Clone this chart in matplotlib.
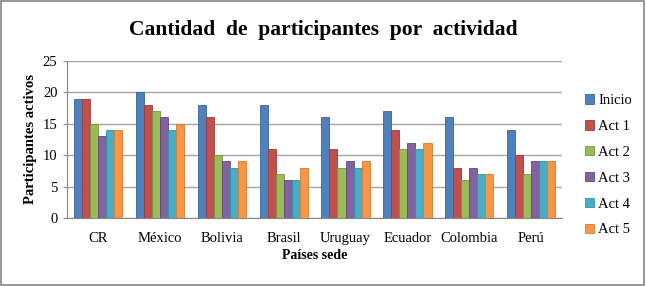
import numpy as np
import matplotlib.pyplot as plt
from matplotlib.patches import Rectangle

# Data
countries = ["CR", "México", "Bolivia", "Brasil", "Uruguay", "Ecuador", "Colombia", "Perú"]
series_names = ["Inicio", "Act 1", "Act 2", "Act 3", "Act 4", "Act 5"]
inicio = [19, 20, 18, 18, 16, 17, 16, 14]
act1 = [19, 18, 16, 11, 11, 14, 8, 10]
act2 = [15, 17, 10, 7, 8, 11, 6, 7]
act3 = [13, 16, 9, 6, 9, 12, 8, 9]
act4 = [14, 14, 8, 6, 8, 11, 7, 9]
act5 = [14, 15, 9, 8, 9, 12, 7, 9]

colors = ["#4F81BD", "#C0504D", "#9BBB59", "#8064A2", "#4BACC6", "#F79646"]
edges = ["#3A6396", "#9B3B38", "#78933F", "#604A7B", "#3590A8", "#D67A2E"]

plt.rcParams['font.family'] = ['Liberation Serif', 'DejaVu Serif']

fig = plt.figure(figsize=(6.46, 2.86), dpi=100)
ax = fig.add_axes([0.104, 0.238, 0.766, 0.549])

x = np.arange(len(countries))
width = 0.13
all_series = [inicio, act1, act2, act3, act4, act5]
for i, vals in enumerate(all_series):
    offset = (i - 2.5) * width
    ax.bar(x + offset, vals, width, color=colors[i], edgecolor=edges[i],
           linewidth=0.6, label=series_names[i], zorder=3)

ax.set_xlim(-0.5, len(countries) - 0.5)
ax.set_ylim(0, 25)
ax.set_yticks(range(0, 26, 5))
ax.set_xticks(x)
ax.set_xticklabels(countries)
ax.tick_params(axis='both', labelsize=10.5, colors='black', length=3, color='#868686')
ax.tick_params(axis='x', length=0, pad=10)
ax.tick_params(axis='y', pad=4)
ax.yaxis.grid(True, color='#A6A6A6', linewidth=1, zorder=0)
for s in ['top', 'right']:
    ax.spines[s].set_visible(False)
for s in ['left', 'bottom']:
    ax.spines[s].set_color('#868686')

ax.set_ylabel("Participantes activos", fontsize=10.5, fontweight='bold', labelpad=4)
ax.set_xlabel("Países sede", fontsize=10, fontweight='bold', labelpad=3)

fig.suptitle("Cantidad  de  participantes  por  actividad", fontsize=15.5,
             fontweight='bold', x=0.5, y=0.93)

ax.legend(loc='center left', bbox_to_anchor=(1.02, 0.335), frameon=False,
          fontsize=10.5, handlelength=0.6, handleheight=0.6, labelspacing=0.88,
          handletextpad=0.3)

fig.patches.append(Rectangle((0.002, 0.004), 0.995, 0.992, transform=fig.transFigure,
                             fill=False, edgecolor='#868686', linewidth=1.2))

fig.savefig("out.png", dpi=100)
